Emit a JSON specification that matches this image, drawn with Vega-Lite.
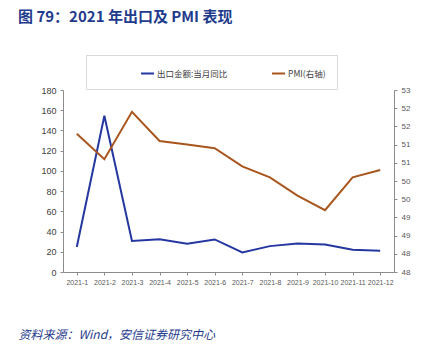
{
  "$schema": "https://vega.github.io/schema/vega-lite/v6.json",
  "width": 331,
  "height": 182,
  "padding": {"left": 63, "top": 90, "right": 52, "bottom": 75},
  "autosize": {"type": "none"},
  "background": "white",
  "config": {
    "font": "Liberation Sans",
    "view": {"stroke": null},
    "axis": {"labelFont": "Liberation Sans", "labelFontSize": 9, "labelColor": "#404040", "domainColor": "#8c8c8c", "tickColor": "#8c8c8c", "grid": false}
  },
  "title": {
    "text": "图 79：2021 年出口及 PMI 表现",
    "font": "Noto Sans CJK SC",
    "fontSize": 15,
    "fontWeight": "bold",
    "color": "#1F3B8C",
    "anchor": "start",
    "frame": "group",
    "dx": -45,
    "offset": 30
  },
  "data": {
    "values": [
      {"month": "2021-1", "export": 24.8, "pmi": 51.3},
      {"month": "2021-2", "export": 154.6, "pmi": 50.6},
      {"month": "2021-3", "export": 30.6, "pmi": 51.9},
      {"month": "2021-4", "export": 32.3, "pmi": 51.1},
      {"month": "2021-5", "export": 27.9, "pmi": 51.0},
      {"month": "2021-6", "export": 32.2, "pmi": 50.9},
      {"month": "2021-7", "export": 19.3, "pmi": 50.4},
      {"month": "2021-8", "export": 25.6, "pmi": 50.1},
      {"month": "2021-9", "export": 28.1, "pmi": 49.6},
      {"month": "2021-10", "export": 27.1, "pmi": 49.2},
      {"month": "2021-11", "export": 22.0, "pmi": 50.1},
      {"month": "2021-12", "export": 20.9, "pmi": 50.3}
    ]
  },
  "encoding": {
    "x": {
      "field": "month", "type": "ordinal", "sort": null,
      "scale": {"paddingInner": 0, "paddingOuter": 0},
      "axis": {
        "labelAngle": 0, "labelFontSize": 7, "labelPadding": 3, "tickSize": 3, "labelOverlap": false, "labelColor": "#595959",
        "title": "资料来源：Wind，安信证券研究中心",
        "titleFont": "Noto Sans CJK SC", "titleFontSize": 12, "titleFontWeight": "normal", "titleFontStyle": "italic",
        "titleColor": "#1F3B8C", "titleAnchor": "start", "titleAlign": "left", "titleX": -45, "titleY": 57
      }
    },
    "color": {
      "field": "series", "type": "nominal",
      "scale": {"domain": ["出口金额:当月同比", "PMI(右轴)"], "range": ["#2537A0", "#A9561E"]},
      "legend": {
        "orient": "none", "legendX": 23, "legendY": -35, "direction": "horizontal", "columns": 2,
        "title": null, "symbolType": "stroke", "symbolSize": 169, "symbolStrokeWidth": 2,
        "labelFont": "Noto Sans CJK SC", "labelFontSize": 8.5, "labelColor": "#404040", "labelOffset": 2,
        "symbolOffset": 43, "columnPadding": 0, "padding": 11, "strokeColor": "#d9d9d9"
      }
    }
  },
  "layer": [
    {
      "mark": {"type": "line", "strokeWidth": 2},
      "encoding": {
        "y": {
          "field": "export", "type": "quantitative",
          "scale": {"domain": [0, 180], "nice": false},
          "axis": {"values": [0,20,40,60,80,100,120,140,160,180], "title": null, "tickSize": 3, "labelPadding": 4}
        },
        "color": {"datum": "出口金额:当月同比"}
      }
    },
    {
      "mark": {"type": "line", "strokeWidth": 2},
      "encoding": {
        "y": {
          "field": "pmi", "type": "quantitative",
          "scale": {"domain": [47.5, 52.5], "nice": false, "zero": false},
          "axis": {"orient": "right", "values": [47.5,48,48.5,49,49.5,50,50.5,51,51.5,52,52.5], "labelExpr": "round(datum.value)", "title": null, "tickSize": 3, "labelPadding": 4, "labelFontSize": 8, "labelColor": "#595959"}
        },
        "color": {"datum": "PMI(右轴)"}
      }
    }
  ],
  "resolve": {"scale": {"y": "independent"}}
}
